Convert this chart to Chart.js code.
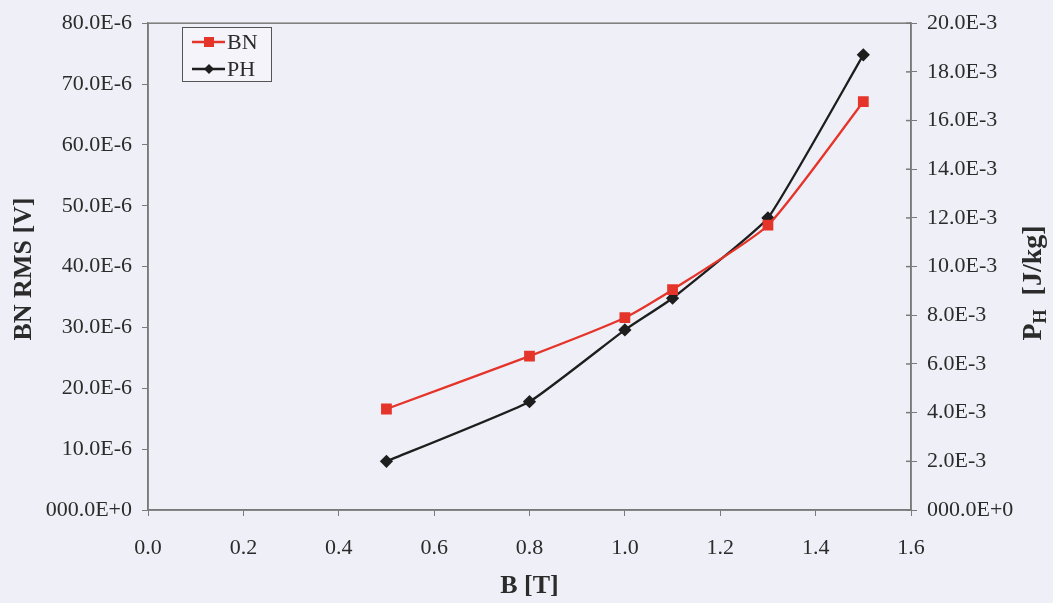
<!DOCTYPE html>
<html>
<head>
<meta charset="utf-8">
<script src="https://cdn.jsdelivr.net/npm/chart.js@4/dist/chart.umd.min.js"></script>
<style>
  html,body{margin:0;padding:0;background:#efeff7;}
  #wrap{width:1053px;height:603px;}
</style>
</head>
<body>
<div id="wrap"><canvas id="c" width="1053" height="603"></canvas></div>
<script>
/* ---------- dados ---------- */
const campoB  = [0.5, 0.8, 1.0, 1.1, 1.3, 1.5];             // B [T]
const bnRms   = [16.6e-6, 25.3e-6, 31.6e-6, 36.2e-6, 46.8e-6, 67.1e-6]; // BN RMS [V]
const perdaPH = [2.0e-3, 4.45e-3, 7.4e-3, 8.7e-3, 12.0e-3, 18.7e-3];    // P_H [J/kg]
const nomes   = ['BN', 'PH'];

const CINZA = '#7a7a7a', TEXTO = '#2b2b2b', FONTE = '"Liberation Serif", "DejaVu Serif", serif';

function fmtEsq(v){ const n = Math.round(v*1e7)/10; return n===0 ? '000.0E+0' : n.toFixed(1)+'E-6'; }
function fmtDir(v){ const n = Math.round(v*1e4)/10; return n===0 ? '000.0E+0' : n.toFixed(1)+'E-3'; }

/* ---------- plugin: moldura, títulos e legenda ---------- */
const extras = {
  id: 'extras',
  afterDraw(chart){
    const { ctx, chartArea: a } = chart;
    ctx.save();
    ctx.strokeStyle = CINZA; ctx.lineWidth = 1.5;
    ctx.strokeRect(a.left, a.top, a.right-a.left, a.bottom-a.top);

    // ticks do eixo direito cruzam o eixo
    const yR = chart.scales.yR;
    yR.ticks.forEach(t => {
      const y = yR.getPixelForValue(t.value);
      ctx.beginPath(); ctx.moveTo(a.right-5, y); ctx.lineTo(a.right, y); ctx.stroke();
    });

    ctx.fillStyle = TEXTO;
    ctx.font = 'bold 26px ' + FONTE;
    ctx.textAlign = 'center'; ctx.textBaseline = 'middle';
    ctx.fillText('B [T]', (a.left+a.right)/2, 586);

    ctx.save();
    ctx.translate(24, 269); ctx.rotate(-Math.PI/2);
    ctx.fillText('BN RMS [V]', 0, 0);
    ctx.restore();

    // P_H [J/kg] com subscrito
    ctx.save();
    ctx.translate(1034, 283); ctx.rotate(-Math.PI/2);
    const p = 'P', sub = 'H', rest = '  [J/kg]';
    ctx.font = 'bold 28px ' + FONTE;
    const wP = ctx.measureText(p).width, wR = ctx.measureText(rest).width;
    ctx.font = 'bold 18px ' + FONTE;
    const wS = ctx.measureText(sub).width;
    let x = -(wP+wS+wR)/2;
    ctx.textAlign = 'left';
    ctx.font = 'bold 28px ' + FONTE; ctx.fillText(p, x, 0); x += wP;
    ctx.font = 'bold 18px ' + FONTE; ctx.fillText(sub, x, 7); x += wS;
    ctx.font = 'bold 28px ' + FONTE; ctx.fillText(rest, x, 0);
    ctx.restore();

    // legenda
    const lx = 182, ly = 27, lw = 89, lh = 54;
    ctx.fillStyle = '#f4f4fa'; ctx.fillRect(lx, ly, lw, lh);
    ctx.strokeStyle = '#555'; ctx.lineWidth = 1; ctx.strokeRect(lx+0.5, ly+0.5, lw, lh);
    chart.data.datasets.forEach((ds, i) => {
      const y = ly + 15 + i*27;
      ctx.strokeStyle = ds.borderColor; ctx.lineWidth = 2.5;
      ctx.beginPath(); ctx.moveTo(lx+10, y); ctx.lineTo(lx+43, y); ctx.stroke();
      ctx.fillStyle = ds.backgroundColor;
      ctx.beginPath();
      if(ds.pointStyle === 'rect'){ ctx.rect(lx+22, y-5, 10, 10); }
      else { ctx.moveTo(lx+27, y-5); ctx.lineTo(lx+32, y); ctx.lineTo(lx+27, y+5); ctx.lineTo(lx+22, y); ctx.closePath(); }
      ctx.fill();
      ctx.fillStyle = TEXTO; ctx.font = '22px ' + FONTE;
      ctx.textAlign = 'left'; ctx.textBaseline = 'middle';
      ctx.fillText(ds.label, lx+45, y+1);
    });
    ctx.restore();
  }
};

new Chart(document.getElementById('c'), {
  type: 'line',
  data: {
    datasets: [
      { label: nomes[0], data: campoB.map((b,i)=>({x:b, y:bnRms[i]})), yAxisID: 'yL',
        borderColor: '#e5352b', backgroundColor: '#e5352b', borderWidth: 2.3,
        pointStyle: 'rect', pointRadius: 6, pointHoverRadius: 6, tension: 0.18 },
      { label: nomes[1], data: campoB.map((b,i)=>({x:b, y:perdaPH[i]})), yAxisID: 'yR',
        borderColor: '#1e1e1e', backgroundColor: '#1e1e1e', borderWidth: 2.3,
        pointStyle: 'rectRot', pointRadius: 5, pointHoverRadius: 5, tension: 0.12 }
    ]
  },
  options: {
    responsive: false, animation: false,
    layout: { padding: { top: 19, left: 0, right: 0, bottom: 0 } },
    plugins: { legend: { display: false }, tooltip: { enabled: false } },
    scales: {
      x: {
        type: 'linear', min: 0, max: 1.6,
        ticks: { stepSize: 0.2, color: TEXTO, font: { family: FONTE, size: 22 }, padding: 19,
                 callback: v => v.toFixed(1) },
        grid: { drawOnChartArea: false, color: CINZA, tickLength: 6 },
        border: { color: CINZA, width: 1.5 },
        afterFit: s => { s.height = 93; }
      },
      yL: {
        position: 'left', min: 0, max: 80e-6,
        ticks: { stepSize: 10e-6, color: TEXTO, font: { family: FONTE, size: 22 }, padding: 10,
                 callback: fmtEsq },
        grid: { drawOnChartArea: false, color: CINZA, tickLength: 6 },
        border: { color: CINZA, width: 1.5 },
        afterFit: s => { s.width = 148; }
      },
      yR: {
        position: 'right', min: 0, max: 20e-3,
        ticks: { stepSize: 2e-3, color: TEXTO, font: { family: FONTE, size: 22 }, padding: 10,
                 callback: fmtDir },
        grid: { drawOnChartArea: false, color: CINZA, tickLength: 6 },
        border: { color: CINZA, width: 1.5 },
        afterFit: s => { s.width = 142; }
      }
    }
  },
  plugins: [extras]
});
</script>
</body>
</html>
